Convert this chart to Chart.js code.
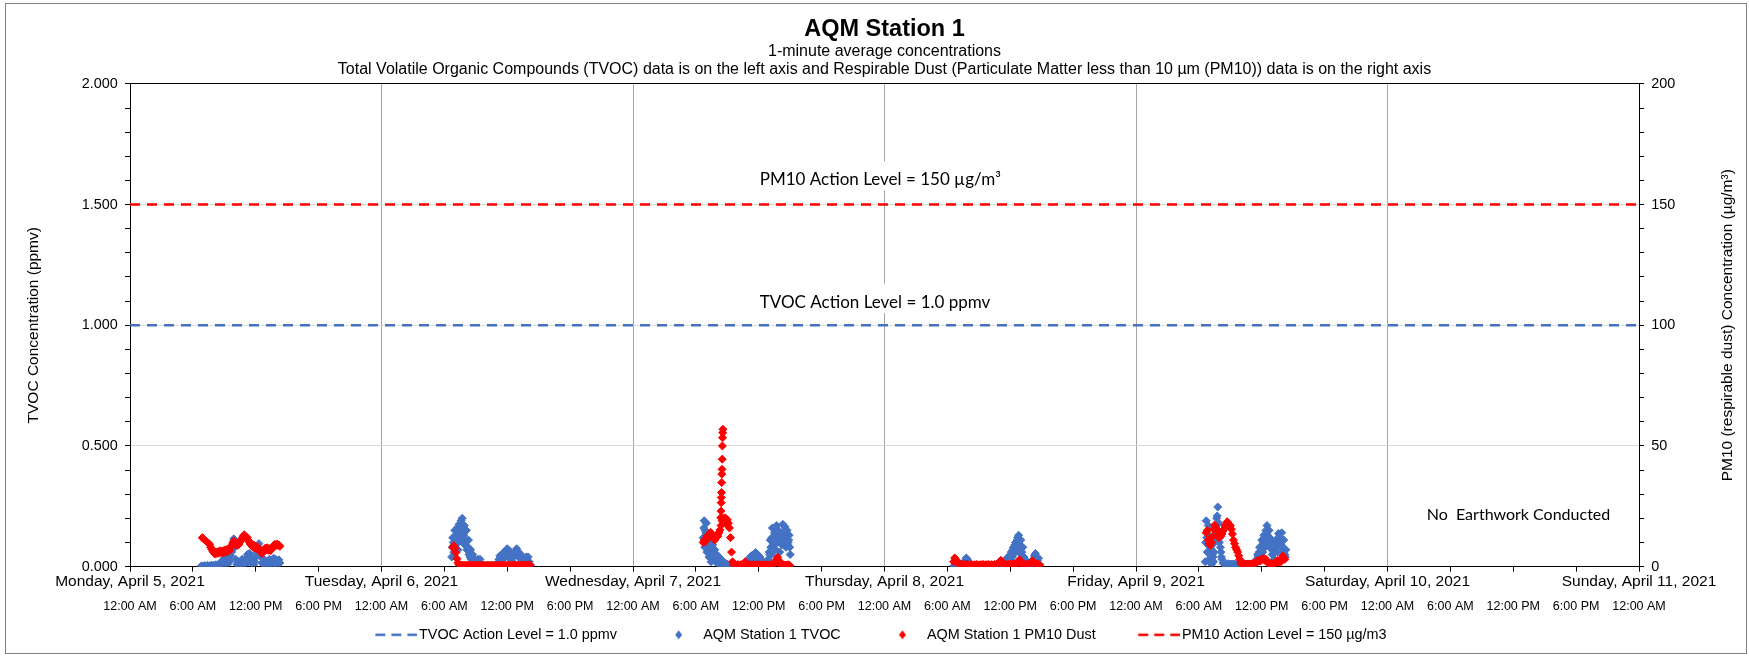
<!DOCTYPE html>
<html>
<head>
<meta charset="utf-8">
<script src="https://cdn.jsdelivr.net/npm/chart.js@4.4.1/dist/chart.umd.min.js"></script>
<style>
  html, body { margin: 0; padding: 0; background: #fff; }
  canvas { display: block; }
</style>
</head>
<body>
<canvas id="aqm-chart" width="1749" height="656"></canvas>
<script>
// x axis runs in hours from Monday 12:00 AM
var dayLabels = ["Monday, April 5, 2021", "Tuesday, April 6, 2021", "Wednesday, April 7, 2021",
  "Thursday, April 8, 2021", "Friday, April 9, 2021", "Saturday, April 10, 2021", "Sunday, April 11, 2021"];
var hourLabels = ["12:00 AM", "6:00 AM", "12:00 PM", "6:00 PM"];

var sampleStep = 0.1; // hours between plotted samples

// TVOC (ppmv), one block per monitored day
var tvocStarts = [6.8, 30.7, 54.7, 78.6, 102.6];
var tvocMon = [0.002,0.003,0.001,0.004,0.002,0.003,0.005,0.002,0.004,0.003,0.006,0.002,0.005,0.004,0.008,0.003,0.006,0.010,0.004,0.012,
  0.025,0.008,0.035,0.015,0.040,0.010,0.030,0.020,0.045,0.060,0.090,0.115,
  0.080,0.030,0.010,0.005,0.020,0.004,0.015,0.030,0.008,0.025,0.012,
  0.035,0.050,0.020,0.055,0.045,0.015,0.030,0.008,0.020,0.040,
  0.060,0.080,0.095,0.070,0.040,0.015,0.030,0.010,0.025,0.005,
  0.020,0.008,0.030,0.012,0.025,0.006,0.035,0.015,0.030,0.010,0.020,0.028,0.015];
var tvocTue = [0.040,0.120,0.060,0.150,0.090,0.160,0.070,0.175,0.110,0.190,
  0.200,0.140,0.170,0.100,0.150,0.080,0.110,0.060,0.070,0.040,
  0.050,0.020,0.030,0.010,0.020,0.030,0.015,0.030,0.010,0.005,
  0.004,0.003,0.002,0.004,0.002,0.003,0.002,0.004,0.002,0.003,
  0.002,0.004,0.003,0.006,0.015,0.030,0.045,0.020,0.050,0.030,
  0.060,0.040,0.070,0.074,0.050,0.065,0.030,0.045,0.020,0.040,
  0.050,0.065,0.074,0.060,0.040,0.055,0.030,0.040,0.020,0.035,
  0.015,0.040,0.025,0.040,0.020,0.008];
var tvocWed = [0.120,0.190,0.150,0.180,0.100,0.130,0.060,0.110,0.040,0.090,
  0.030,0.070,0.020,0.050,0.010,0.040,0.005,0.030,0.008,0.020,
  0.004,0.015,0.003,0.010,0.002,0.006,0.003,0.004,0.002,0.003,
  0.002,0.003,0.002,0.004,0.002,0.003,0.002,0.006,0.004,0.010,
  0.015,0.008,0.025,0.012,0.035,0.020,0.045,0.030,0.050,0.035,
  0.058,0.040,0.050,0.030,0.040,0.020,0.025,0.010,0.012,0.006,
  0.008,0.004,0.030,0.060,0.110,0.050,0.160,0.090,0.140,0.070,
  0.170,0.100,0.150,0.060,0.130,0.090,0.175,0.120,0.165,0.080,
  0.150,0.100,0.130,0.050];
var tvocThu = [0.003,0.002,0.004,0.002,0.003,0.005,0.002,0.004,0.006,0.010,
  0.015,0.025,0.036,0.030,0.020,0.010,0.005,0.003,0.004,0.002,
  0.003,0.002,0.004,0.003,0.002,0.003,0.004,0.002,0.003,0.002,
  0.004,0.003,0.002,0.005,0.003,0.004,0.002,0.006,0.003,0.008,
  0.005,0.010,0.006,0.012,0.008,0.015,0.010,0.020,0.012,0.025,
  0.018,0.035,0.025,0.045,0.030,0.060,0.040,0.080,0.055,0.100,
  0.070,0.120,0.130,0.090,0.110,0.060,0.080,0.040,0.030,0.015,
  0.020,0.010,0.015,0.008,0.012,0.020,0.030,0.045,0.054,0.040,
  0.025,0.035,0.010];
var tvocFri = [0.020,0.190,0.060,0.170,0.030,0.080,0.010,0.050,0.020,0.100,
  0.150,0.200,0.247,0.180,0.120,0.060,0.030,0.015,0.010,0.008,
  0.010,0.008,0.012,0.009,0.010,0.008,0.011,0.009,0.010,0.008,
  0.010,0.009,0.011,0.008,0.010,0.009,0.010,0.008,0.011,0.009,
  0.010,0.008,0.010,0.009,0.011,0.010,0.012,0.015,0.020,0.030,
  0.050,0.030,0.080,0.040,0.110,0.060,0.130,0.080,0.150,0.170,
  0.120,0.150,0.080,0.110,0.050,0.090,0.030,0.070,0.100,0.060,
  0.137,0.090,0.120,0.140,0.080,0.110,0.050,0.070];
var tvocDays = [tvocMon, tvocTue, tvocWed, tvocThu, tvocFri];

// extra TVOC readings inside the taller blue blobs (half a step later)
var tvocBlobStarts = [30.75, 54.75, 60.95, 83.65, 102.65, 107.65];
var tvocBlobTue = [0.08,0.10,0.12,0.11,0.13,0.12,0.14,0.15,0.16,0.12,0.10,0.13,0.09,0.11,0.07,0.08,0.05,0.04,0.03];
var tvocBlobWedAm = [0.16,0.08,0.14,0.06,0.09,0.04,0.07,0.02,0.05];
var tvocBlobWedPm = [0.02,0.05,0.08,0.12,0.10,0.12,0.11,0.13,0.14,0.12,0.13,0.11,0.10,0.14,0.12,0.15,0.10,0.12,0.09,0.11,0.08];
var tvocBlobThu = [0.01,0.02,0.03,0.04,0.05,0.06,0.07,0.08,0.09,0.10,0.11,0.10,0.07,0.06,0.05,0.04,0.02,0.03,0.01];
var tvocBlobFriAm = [0.10,0.12,0.09,0.13,0.06,0.04,0.02,0.04,0.06,0.12,0.17,0.21,0.15,0.10,0.08,0.04];
var tvocBlobFriPm = [0.04,0.06,0.05,0.08,0.07,0.10,0.09,0.12,0.14,0.13,0.10,0.12,0.09,0.07,0.05,0.06,0.08,0.09,0.11,0.12,0.10,0.12,0.09,0.08,0.06,0.05,0.04];
var tvocBlobs = [tvocBlobTue, tvocBlobWedAm, tvocBlobWedPm, tvocBlobThu, tvocBlobFriAm, tvocBlobFriPm];

// PM10 dust (ug/m3)
var pm10Starts = [6.9, 30.8, 54.7, 78.6, 102.7];
var pm10Mon = [12.0,11.6,11.2,10.8,10.4,10.0,9.6,9.2,8.0,7.2,6.4,5.8,5.2,6.0,5.4,6.2,5.6,6.6,5.8,6.4,
  5.6,6.8,6.0,7.0,6.2,7.4,6.6,7.8,8.6,9.8,10.6,9.8,9.0,9.6,8.8,9.4,10.2,11.0,11.8,12.6,
  13.2,12.4,11.6,12.0,10.8,10.0,9.2,8.8,8.2,9.0,7.8,8.4,7.4,8.0,7.2,6.6,6.0,5.4,6.2,7.0,
  7.6,7.0,7.8,6.8,7.4,6.6,7.2,8.0,8.6,9.2,8.6,9.4,8.8,9.0,8.4];
var pm10Tue = [8.0,8.6,7.6,5.8,3.3,1.6,0.9,
  0.5,0.3,0.6,0.4,0.5,0.3,0.6,0.4,0.5,0.3,
  0.6,0.4,0.5,0.3,0.6,0.4,0.5,0.3,0.6,0.4,
  0.5,0.3,0.6,0.4,0.5,0.3,0.6,0.4,0.5,0.3,
  0.6,0.4,0.5,0.3,0.6,0.4,0.5,0.3,0.6,0.4,
  0.5,0.3,0.6,0.4,0.5,0.3,0.6,0.4,0.5,0.3,
  0.6,0.4,0.5,0.3,0.6,0.4,0.5,0.3,0.6,0.4,
  0.5,0.3,0.6,0.4,0.7,0.5,0.8,0.6];
var pm10Wed = [10.0,11.0,10.4,12.0,12.8,12.2,13.4,14.2,13.6,12.8,
  11.6,11.0,12.4,13.2,12.6,14.0,15.2,17.0,19.0,20.0,
  18.6,20.2,17.6,19.4,18.0,16.0,12.0,6.0,2.0,0.8,
  0.5,0.7,0.4,0.9,0.6,0.5,0.8,0.6,1.0,1.4,
  2.0,1.2,0.8,0.6,0.9,0.5,0.7,0.4,0.8,0.6,
  0.5,0.7,0.4,0.8,0.5,0.6,0.4,0.7,0.5,0.6,
  0.4,0.8,0.5,0.7,0.6,0.9,0.5,0.8,1.2,2.0,
  3.0,3.9,2.6,1.5,0.8,0.6,0.9,0.5,0.7,0.4,
  0.6,0.8,0.5,0.3];
var pm10Thu = [2.0,3.6,3.0,2.2,1.4,1.0,0.8,1.1,0.7,0.9,
  0.6,0.9,0.7,1.0,0.6,0.8,0.5,0.9,0.7,0.6,
  0.8,0.5,0.9,0.6,0.7,0.5,0.8,0.6,0.9,0.7,
  0.6,0.8,0.5,0.9,0.7,0.6,0.8,0.5,0.7,0.9,
  0.6,0.8,1.0,1.4,2.0,2.6,1.8,1.2,0.9,0.7,
  0.8,0.6,0.9,0.7,1.0,0.6,0.8,1.2,0.9,0.7,
  1.0,1.6,2.4,2.8,1.8,1.2,0.9,0.7,1.0,0.8,
  0.6,0.9,0.7,1.1,1.6,2.4,2.0,1.4,1.0,0.8,
  1.2,0.9,0.6];
var pm10Fri = [14.0,15.0,11.0,9.5,8.8,10.0,12.5,15.5,17.2,16.0,
  15.0,13.0,12.0,14.0,12.6,13.5,14.8,15.6,16.8,17.6,
  18.6,18.0,16.8,17.0,15.5,13.5,11.0,9.5,8.0,7.0,
  6.0,4.5,3.0,1.5,1.0,0.8,1.2,0.7,1.0,0.8,
  1.1,0.7,1.0,0.8,1.2,0.9,1.0,1.5,2.0,2.5,
  2.2,2.8,2.4,3.2,3.0,3.5,2.6,3.0,2.0,1.5,
  1.2,1.0,1.4,0.9,1.2,1.0,1.6,2.2,2.5,2.0,
  1.5,2.6,3.5,4.4,3.8,3.0];
var pm10Days = [pm10Mon, pm10Tue, pm10Wed, pm10Thu, pm10Fri];

// short burst on Wednesday morning, sampled every minute
var pm10SpikeStart = 56.38;
var pm10SpikeStep = 1 / 60;
var pm10Spike = [20.3, 23.0, 26.5, 28.6, 30.7, 34.8, 38.3, 40.3, 44.5, 50.0, 53.4, 55.5, 56.9];

// action levels
var actionHours = [0, 144];
var tvocAction = [1.0, 1.0];
var pm10Action = [150, 150];

var noteTexts = ["PM10 Action Level = 150 \u00b5g/m\u00b3", "TVOC Action Level = 1.0 ppmv", "No  Earthwork Conducted"];
var noteHours = [71.6, 71.1, 132.5];
var noteLevels = [1.604, 1.096, 0.213];
var noteSizes = [17, 17, 16];
var noteBoxes = [true, true, false];

var BLUE = "#4472C4";
var RED = "#FF0000";

function blockPoints(starts, blocks, step) {
  var pts = [];
  blocks.forEach(function (vals, b) {
    vals.forEach(function (v, i) { pts.push({ x: starts[b] + i * step, y: v }); });
  });
  return pts;
}
function pairPoints(xs, ys) {
  return xs.map(function (x, i) { return { x: x, y: ys[i] }; });
}

var tvocPoints = blockPoints(tvocStarts, tvocDays, sampleStep)
  .concat(blockPoints(tvocBlobStarts, tvocBlobs, sampleStep));
var pm10Points = blockPoints(pm10Starts, pm10Days, sampleStep)
  .concat(blockPoints([pm10SpikeStart], [pm10Spike], pm10SpikeStep));

function isMulti(v, step) {
  return Math.abs(v / step - Math.round(v / step)) < 1e-6;
}

// legend icons
function dashIcon(color) {
  var c = document.createElement("canvas");
  c.width = 82; c.height = 8;
  var g = c.getContext("2d");
  g.strokeStyle = color; g.lineWidth = 2.5; g.setLineDash([10, 6]);
  g.beginPath(); g.moveTo(40, 4); g.lineTo(82, 4); g.stroke();
  return c;
}
function diamondIcon(color) {
  var c = document.createElement("canvas");
  c.width = 47; c.height = 12;
  var g = c.getContext("2d");
  g.fillStyle = color;
  g.beginPath();
  g.moveTo(38.2, 6); g.lineTo(41.7, 1.5); g.lineTo(45.2, 6); g.lineTo(41.7, 10.5);
  g.closePath(); g.fill();
  return c;
}

var frameAndTitles = {
  id: "frameAndTitles",
  beforeDraw: function (chart) {
    var ctx = chart.ctx;
    ctx.save();
    ctx.fillStyle = "#fff";
    ctx.fillRect(0, 0, chart.width, chart.height);
    ctx.restore();
  },
  beforeDatasetsDraw: function (chart) {
    var ctx = chart.ctx, xs = chart.scales.x, ys = chart.scales.y;
    ctx.save();
    ctx.textAlign = "center";
    ctx.textBaseline = "middle";
    noteTexts.forEach(function (t, i) {
      ctx.font = noteSizes[i] + "px Lato";
      var px = xs.getPixelForValue(noteHours[i]);
      var py = ys.getPixelForValue(noteLevels[i]);
      if (noteBoxes[i]) {
        var w = ctx.measureText(t).width + 12;
        ctx.fillStyle = "#fff";
        ctx.fillRect(px - w / 2, py - 18, w, 29);
      }
      ctx.fillStyle = "#000";
      ctx.fillText(t, px, py);
    });
    ctx.restore();
  },
  afterDraw: function (chart) {
    var ctx = chart.ctx, area = chart.chartArea;
    ctx.save();
    // right axis title reads upward like the left one
    ctx.font = "15.5px 'Liberation Sans', Arial, sans-serif";
    ctx.fillStyle = "#000";
    ctx.textAlign = "center";
    ctx.textBaseline = "middle";
    ctx.translate(1728, (area.top + area.bottom) / 2);
    ctx.rotate(-Math.PI / 2);
    ctx.fillText("PM10 (respirable dust) Concentration (\u00b5g/m\u00b3)", 0, 0);
    ctx.restore();
    ctx.save();
    ctx.strokeStyle = "#808080";
    ctx.lineWidth = 1;
    ctx.strokeRect(5.5, 3.5, 1741, 650);
    ctx.restore();
  }
};

Chart.defaults.font.family = "'Liberation Sans', Arial, sans-serif";
Chart.defaults.color = "#000";

var config = {
  type: "scatter",
  data: {
    datasets: [
      {
        label: "AQM Station 1 PM10 Dust",
        data: pm10Points,
        yAxisID: "y2",
        pointStyle: "rectRot",
        pointRadius: 4,
        pointBorderWidth: 1,
        backgroundColor: RED,
        borderColor: RED
      },
      {
        label: "AQM Station 1 TVOC",
        data: tvocPoints,
        yAxisID: "y",
        pointStyle: "rectRot",
        pointRadius: 4,
        pointBorderWidth: 1,
        backgroundColor: BLUE,
        borderColor: BLUE
      },
      {
        label: "TVOC Action Level = 1.0 ppmv",
        data: pairPoints(actionHours, tvocAction),
        yAxisID: "y",
        showLine: true,
        pointRadius: 0,
        borderColor: BLUE,
        borderWidth: 2.5,
        borderDash: [10, 7]
      },
      {
        label: "PM10 Action Level = 150 \u00b5g/m3",
        data: pairPoints(actionHours, pm10Action),
        yAxisID: "y2",
        showLine: true,
        pointRadius: 0,
        borderColor: RED,
        borderWidth: 2.5,
        borderDash: [10, 7]
      }
    ]
  },
  options: {
    responsive: false,
    animation: false,
    events: [],
    layout: { padding: { top: 0, bottom: 4, left: 0, right: 0 } },
    scales: {
      x: {
        type: "linear",
        position: "bottom",
        min: 0,
        max: 144,
        weight: 0,
        border: { color: "#000", width: 1 },
        grid: {
          color: function (c) {
            var v = c.tick.value;
            return (v > 0 && v < 144 && isMulti(v, 24)) ? "#a6a6a6" : "rgba(0,0,0,0)";
          },
          tickColor: "#000",
          tickLength: 5
        },
        ticks: {
          stepSize: 6,
          autoSkip: false,
          maxRotation: 0,
          padding: 1.2,
          font: { size: 15.5 },
          callback: function (v) { return isMulti(v, 24) ? dayLabels[Math.round(v / 24)] : ""; }
        }
      },
      x2: {
        type: "linear",
        position: "bottom",
        min: 0,
        max: 144,
        weight: 1,
        border: { display: false },
        grid: { display: false, drawTicks: false },
        ticks: {
          stepSize: 6,
          autoSkip: false,
          maxRotation: 0,
          padding: 6,
          font: { size: 12.5 },
          callback: function (v) { return hourLabels[Math.round(v / 6) % 4]; }
        }
      },
      y: {
        position: "left",
        min: 0,
        max: 2,
        afterFit: function (s) { s.width = 130; },
        border: { color: "#000", width: 1 },
        grid: {
          color: function (c) {
            var v = c.tick.value;
            if (Math.abs(v - 2) < 1e-6) return "#000";
            return (v > 0 && isMulti(v, 0.5)) ? "#d9d9d9" : "rgba(0,0,0,0)";
          },
          tickColor: "#000",
          tickLength: 5
        },
        ticks: {
          stepSize: 0.1,
          autoSkip: false,
          padding: 7.2,
          font: { size: 14.4 },
          callback: function (v) { return isMulti(v, 0.5) ? v.toFixed(3) : ""; }
        },
        title: {
          display: true,
          text: "TVOC Concentration (ppmv)",
          font: { size: 15.5 },
          padding: { top: 24.7, bottom: 0 }
        }
      },
      y2: {
        position: "right",
        min: 0,
        max: 200,
        afterFit: function (s) { s.width = 110; },
        border: { color: "#000", width: 1 },
        grid: { drawOnChartArea: false, tickColor: "#000", tickLength: 5 },
        ticks: {
          stepSize: 10,
          autoSkip: false,
          padding: 7.3,
          font: { size: 14.4 },
          callback: function (v) { return isMulti(v, 50) ? String(v) : ""; }
        }
      }
    },
    plugins: {
      title: {
        display: true,
        fullSize: false,
        text: "AQM Station 1",
        font: { size: 23.5, weight: "bold" },
        padding: { top: 15, bottom: 0 }
      },
      subtitle: {
        display: true,
        fullSize: false,
        text: ["1-minute average concentrations",
          "Total Volatile Organic Compounds (TVOC) data is on the left axis and Respirable Dust (Particulate Matter less than 10 \u00b5m (PM10)) data is on the right axis"],
        font: { size: 16, lineHeight: 1.11 },
        color: "#000",
        padding: { top: 0, bottom: 5.2 }
      },
      legend: {
        position: "bottom",
        labels: {
          usePointStyle: true,
          pointStyleWidth: 71,
          padding: 8,
          font: { size: 14.4 },
          generateLabels: function () {
            return [
              { text: "TVOC Action Level = 1.0 ppmv", pointStyle: dashIcon(BLUE), lineWidth: 0, datasetIndex: 2 },
              { text: "AQM Station 1 TVOC", pointStyle: diamondIcon(BLUE), lineWidth: 0, datasetIndex: 1 },
              { text: "AQM Station 1 PM10 Dust", pointStyle: diamondIcon(RED), lineWidth: 0, datasetIndex: 0 },
              // trailing en spaces nudge the centred row a little to the left
              { text: "PM10 Action Level = 150 \u00b5g/m3\u2002\u2002\u2002", pointStyle: dashIcon(RED), lineWidth: 0, datasetIndex: 3 }
            ];
          }
        }
      },
      tooltip: { enabled: false }
    }
  },
  plugins: [frameAndTitles]
};

var aqmChart = new Chart(document.getElementById("aqm-chart"), config);
</script>
</body>
</html>
